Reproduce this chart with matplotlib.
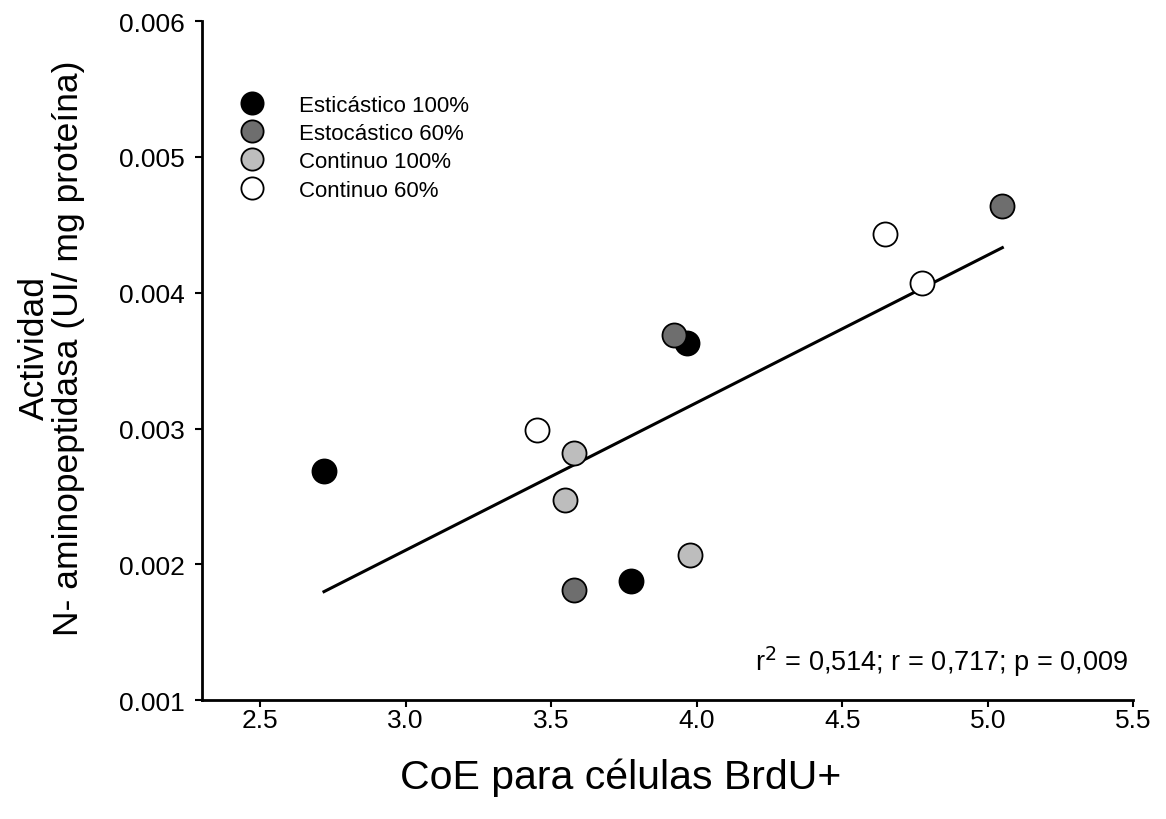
import numpy as np
import matplotlib
matplotlib.use("Agg")
import matplotlib.pyplot as plt
from matplotlib.lines import Line2D

plt.rcParams['font.family'] = ['Liberation Sans', 'DejaVu Sans']

# values
groups = ['Esticástico 100%', 'Estocástico 60%', 'Continuo 100%', 'Continuo 60%']
x_est100 = [2.72, 3.775, 3.967]
y_est100 = [0.00269, 0.00188, 0.00363]
x_est60 = [3.923, 3.579, 5.05]
y_est60 = [0.00369, 0.00181, 0.00464]
x_con100 = [3.579, 3.548, 3.978]
y_con100 = [0.00282, 0.00247, 0.00207]
x_con60 = [3.452, 4.648, 4.775]
y_con60 = [0.00299, 0.00443, 0.00407]
stats_text = r'r$^2$ = 0,514; r = 0,717; p = 0,009'

colors = ['black', '#6e6e6e', '#bdbdbd', 'white']
xs = [x_est100, x_est60, x_con100, x_con60]
ys = [y_est100, y_est60, y_con100, y_con60]

fig = plt.figure(figsize=(11.66, 8.2), dpi=100)
ax = fig.add_axes([0.173, 0.145, 0.799, 0.828])

# regression over all points
all_x = np.concatenate([np.array(v) for v in xs])
all_y = np.concatenate([np.array(v) for v in ys])
slope, intercept = np.polyfit(all_x, all_y, 1)
lx = np.array([all_x.min(), all_x.max()])
ax.plot(lx, slope * lx + intercept, color='black', lw=2.2, zorder=2)

for x, y, c, lab in zip(xs, ys, colors, groups):
    ax.scatter(x, y, s=300, facecolor=c, edgecolor='black', linewidth=1.3,
               zorder=3, label=lab)

handles = [Line2D([], [], marker='o', ls='none', markersize=16,
                  markerfacecolor=c, markeredgecolor='black', markeredgewidth=1.3)
           for c in colors]
ax.legend(handles, groups, loc='upper left', bbox_to_anchor=(0.021, 0.905),
          frameon=False, fontsize=16, handlelength=2.0, handletextpad=1.1,
          labelspacing=0.33, borderaxespad=0.0, borderpad=0.4)

ax.text(0.995, 0.058, stats_text, transform=ax.transAxes, ha='right',
        va='center', fontsize=19.5)

ax.set_xlim(2.3, 5.5)
ax.set_ylim(0.001, 0.006)
ax.set_xticks([2.5, 3.0, 3.5, 4.0, 4.5, 5.0, 5.5])
ax.set_xticklabels(['2.5', '3.0', '3.5', '4.0', '4.5', '5.0', '5.5'])
ax.set_yticks([0.001, 0.002, 0.003, 0.004, 0.005, 0.006])
ax.set_yticklabels(['0.001', '0.002', '0.003', '0.004', '0.005', '0.006'])
ax.tick_params(direction='out', length=5, width=1.5, labelsize=19)
ax.tick_params(axis='x', pad=1)
ax.tick_params(axis='y', pad=7)

for side in ['top', 'right']:
    ax.spines[side].set_visible(False)
for side in ['left', 'bottom']:
    ax.spines[side].set_linewidth(2)

ax.set_xlabel('CoE para células BrdU+', fontsize=29.5)
ax.xaxis.set_label_coords(0.45, -0.085)
ax.set_ylabel('Actividad\nN- aminopeptidasa (UI/ mg proteína)', fontsize=25.5,
              linespacing=1.05)
ax.yaxis.set_label_coords(-0.125, 0.52)

fig.savefig('out.png', dpi=100)
